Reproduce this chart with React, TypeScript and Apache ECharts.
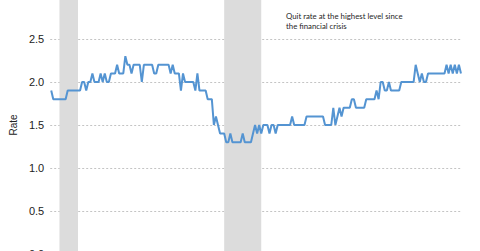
import React, { useEffect, useRef } from "react";
import * as echarts from "echarts";

// Monthly quit rate, Dec 2000 onward
const startYear = 2000;
const startMonth = 12;
const quitRate: number[] = [
  1.9, 1.8, 1.8, 1.8, 1.8, 1.8, 1.8, 1.8, 1.9, 1.9,
  1.9, 1.9, 1.9, 1.9, 1.9, 2.0, 2.0, 1.9, 2.0, 2.0,
  2.1, 2.0, 2.0, 2.0, 2.1, 2.0, 2.1, 2.0, 2.0, 2.1,
  2.1, 2.1, 2.2, 2.1, 2.1, 2.1, 2.3, 2.2, 2.2, 2.1,
  2.2, 2.2, 2.2, 2.2, 2.0, 2.2, 2.2, 2.2, 2.2, 2.2,
  2.1, 2.1, 2.2, 2.2, 2.2, 2.2, 2.2, 2.2, 2.1, 2.2,
  2.1, 2.1, 2.1, 1.9, 2.1, 2.0, 2.0, 2.0, 2.0, 2.0,
  1.9, 2.1, 1.9, 1.9, 1.9, 1.9, 1.8, 1.8, 1.8, 1.5,
  1.6, 1.5, 1.4, 1.4, 1.4, 1.3, 1.3, 1.4, 1.3, 1.3,
  1.3, 1.3, 1.3, 1.4, 1.3, 1.3, 1.3, 1.3, 1.4, 1.5,
  1.4, 1.5, 1.4, 1.5, 1.5, 1.5, 1.4, 1.5, 1.5, 1.4,
  1.5, 1.5, 1.5, 1.5, 1.5, 1.5, 1.5, 1.6, 1.5, 1.5,
  1.5, 1.5, 1.5, 1.5, 1.6, 1.6, 1.6, 1.6, 1.6, 1.6,
  1.6, 1.6, 1.6, 1.5, 1.5, 1.5, 1.5, 1.7, 1.5, 1.6,
  1.7, 1.6, 1.7, 1.7, 1.7, 1.7, 1.8, 1.8, 1.7, 1.7,
  1.7, 1.7, 1.7, 1.8, 1.8, 1.8, 1.8, 1.8, 1.9, 1.8,
  2.0, 2.0, 1.9, 1.9, 2.0, 1.9, 1.9, 1.9, 1.9, 1.9,
  2.0, 2.0, 2.0, 2.0, 2.0, 2.0, 2.0, 2.2, 2.1, 2.0,
  2.1, 2.0, 2.0, 2.1, 2.1, 2.1, 2.1, 2.1, 2.1, 2.1,
  2.1, 2.1, 2.2, 2.1, 2.2, 2.1, 2.2, 2.1, 2.2, 2.1,
];

const months: string[] = quitRate.map((_, i) => {
  const m = startMonth - 1 + i;
  const y = startYear + Math.floor(m / 12);
  const mm = (m % 12) + 1;
  return `${y}-${mm < 10 ? "0" + mm : mm}`;
});

const recessions: [string, string][] = [
  ["2001-04", "2002-01"],
  ["2007-12", "2009-06"],
];

const annotationLines = [
  "Quit rate at the highest level since",
  "the financial crisis",
];

// The chart canvas is larger than the window; the window shows a crop of it.
const OFFSET = 20;

export default function App() {
  const ref = useRef<HTMLDivElement>(null);
  useEffect(() => {
    if (!ref.current) return;
    const chart = echarts.init(ref.current, null, { renderer: "svg" });
    chart.setOption({
      animation: false,
      backgroundColor: "#ffffff",
      grid: { left: 48, right: 18, top: OFFSET - 4, bottom: 17 },
      xAxis: {
        type: "category",
        data: months,
        boundaryGap: true,
        axisLine: { show: false },
        axisTick: { show: false },
        axisLabel: { show: false },
        splitLine: { show: false },
      },
      yAxis: {
        type: "value",
        min: 0,
        max: 3,
        interval: 0.5,
        name: "Rate",
        nameLocation: "middle",
        nameGap: 22,
        nameRotate: 90,
        nameTextStyle: { color: "#222", fontSize: 10, fontFamily: "Liberation Sans" },
        axisLine: { show: false },
        axisTick: { show: false },
        axisLabel: {
          color: "#222",
          fontSize: 11,
          fontFamily: "Liberation Sans",
          margin: 6,
          formatter: (v: number) => v.toFixed(1),
        },
        splitLine: { show: true, lineStyle: { color: "#c4c4c4", type: [2, 2], width: 1 } },
      },
      series: [
        {
          type: "line",
          data: quitRate,
          showSymbol: false,
          symbol: "none",
          lineStyle: { color: "#5494d2", width: 2 },
          markArea: {
            silent: true,
            itemStyle: { color: "#dcdcdc" },
            data: recessions.map(([a, b]) => [{ xAxis: a }, { xAxis: b }]),
          },
          z: 3,
        },
      ],
      graphic: [
        {
          type: "text",
          left: 286,
          top: OFFSET + 11,
          style: {
            text: annotationLines.join("\n"),
            fill: "#262626",
            fontSize: 7.8,
            lineHeight: 10,
            fontFamily: "Lato",
          },
        },
      ],
    });
    return () => chart.dispose();
  }, []);
  return (
    <div
      ref={ref}
      style={{ position: "fixed", left: 0, top: -OFFSET, width: 480, height: 251 + OFFSET + 20 }}
    />
  );
}
